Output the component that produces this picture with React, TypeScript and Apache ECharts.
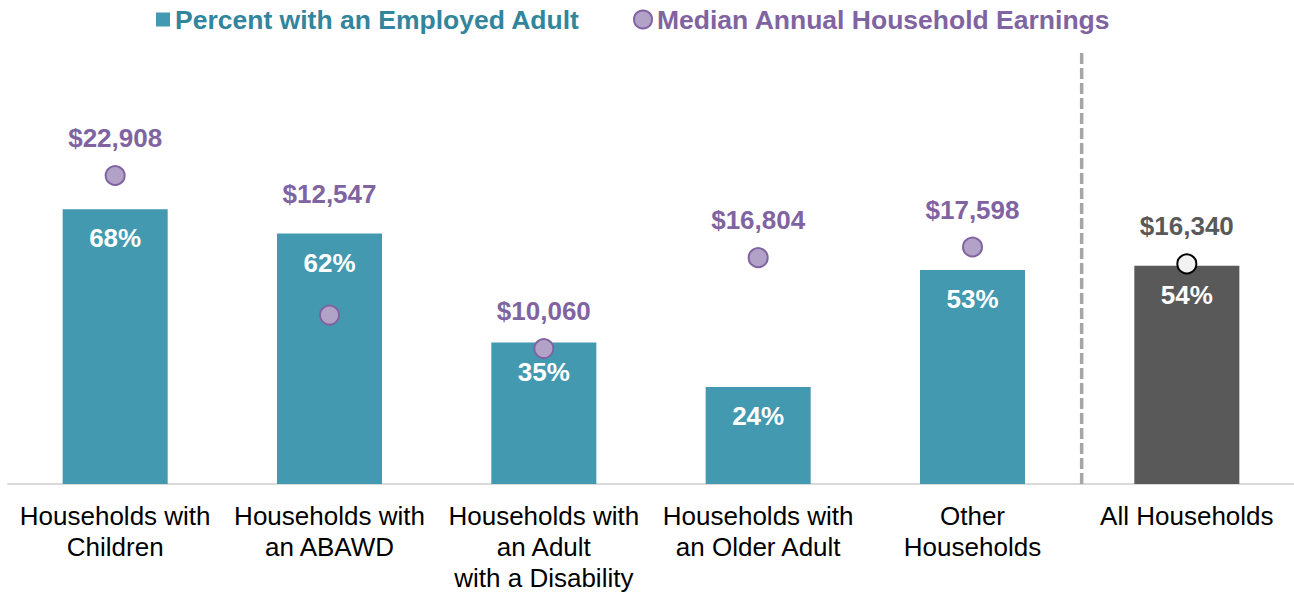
import React, { useEffect, useRef } from "react";
import * as echarts from "echarts";

const categories = [
  "Households with\nChildren",
  "Households with\nan ABAWD",
  "Households with\nan Adult\nwith a Disability",
  "Households with\nan Older Adult",
  "Other\nHouseholds",
  "All Households",
];
const percentEmployed = [68, 62, 35, 24, 53, 54];
const medianEarnings = [22908, 12547, 10060, 16804, 17598, 16340];

const FONT = "'Liberation Sans', Arial, sans-serif";
const TEAL = "#4399B0";
const DARK = "#595959";
const PURPLE = "#8064A2";

export default function App() {
  const ref = useRef<HTMLDivElement>(null);
  useEffect(() => {
    if (!ref.current) return;
    const chart = echarts.init(ref.current, null, { renderer: "svg" });
    const last = categories.length - 1;
    chart.setOption({
      animation: false,
      textStyle: { fontFamily: FONT },
      legend: [
        {
          left: 156,
          top: 6,
          padding: 0,
          itemWidth: 14,
          itemHeight: 14,
          data: [{ name: "Percent with an Employed Adult", icon: "rect" }],
          textStyle: { color: "#31859C", fontSize: 26.5, fontWeight: "bold", fontFamily: FONT },
          selectedMode: false,
        },
        {
          left: 633,
          top: 6,
          padding: 0,
          itemWidth: 18,
          itemHeight: 18,
          data: [{ name: "Median Annual Household Earnings", icon: "circle" }],
          textStyle: { color: PURPLE, fontSize: 26.5, fontWeight: "bold", fontFamily: FONT },
          selectedMode: false,
        },
      ],
      grid: { left: 8, right: 0, top: 80, bottom: 109, containLabel: false },
      xAxis: {
        type: "category",
        data: categories,
        axisTick: { show: false },
        axisLine: { lineStyle: { color: "#D9D9D9", width: 2 } },
        axisLabel: {
          color: "#000",
          fontSize: 26,
          lineHeight: 31,
          margin: 16,
          fontFamily: FONT,
          interval: 0,
        },
      },
      yAxis: [
        { type: "value", min: 0, max: 100, show: false, splitLine: { show: false } },
        { type: "value", min: 0, max: 30000, show: false, splitLine: { show: false } },
      ],
      series: [
        {
          name: "Percent with an Employed Adult",
          type: "bar",
          barWidth: "49%",
          itemStyle: { color: TEAL },
          data: percentEmployed.map((v, i) => ({
            value: v,
            itemStyle: { color: i === last ? DARK : TEAL },
          })),
          label: {
            show: true,
            position: "insideTop",
            distance: 16,
            color: "#fff",
            fontSize: 26,
            fontWeight: "bold",
            fontFamily: FONT,
            formatter: (p: any) => p.value + "%",
          },
          z: 2,
        },
        {
          name: "Median Annual Household Earnings",
          type: "scatter",
          yAxisIndex: 1,
          symbol: "circle",
          symbolSize: 19,
          itemStyle: { color: "#B3A2C7", borderColor: PURPLE, borderWidth: 2, opacity: 1 },
          data: medianEarnings.map((v, i) => {
            if (i === last)
              return {
                value: v,
                itemStyle: { color: "#F2F2F2", borderColor: "#000", borderWidth: 2, opacity: 1 },
                label: { color: DARK },
              };
            if (i === 1) return { value: v, label: { offset: [0, -84] } };
            return { value: v };
          }),
          label: {
            show: true,
            position: "top",
            distance: 14,
            color: PURPLE,
            opacity: 1,
            fontSize: 26,
            fontWeight: "bold",
            fontFamily: FONT,
            formatter: (p: any) => "$" + Number(p.value).toLocaleString("en-US"),
          },
          z: 5,
        },
      ],
    });
    const x1 = chart.convertToPixel({ xAxisIndex: 0 }, last - 1) as number;
    const x2 = chart.convertToPixel({ xAxisIndex: 0 }, last) as number;
    const y0 = chart.convertToPixel({ yAxisIndex: 0 }, 0) as number;
    const xm = (x1 + x2) / 2 + 2;
    chart.setOption({
      graphic: [
        {
          type: "line",
          shape: { x1: xm, y1: 53, x2: xm, y2: y0 },
          style: { stroke: "#A6A6A6", lineWidth: 3.5, lineDash: [11, 4] },
          z: 1,
        },
      ],
    });
    return () => chart.dispose();
  }, []);
  return (
    <div
      ref={ref}
      style={{ position: "absolute", left: 0, top: 0, width: 1294, height: 593 }}
    />
  );
}
